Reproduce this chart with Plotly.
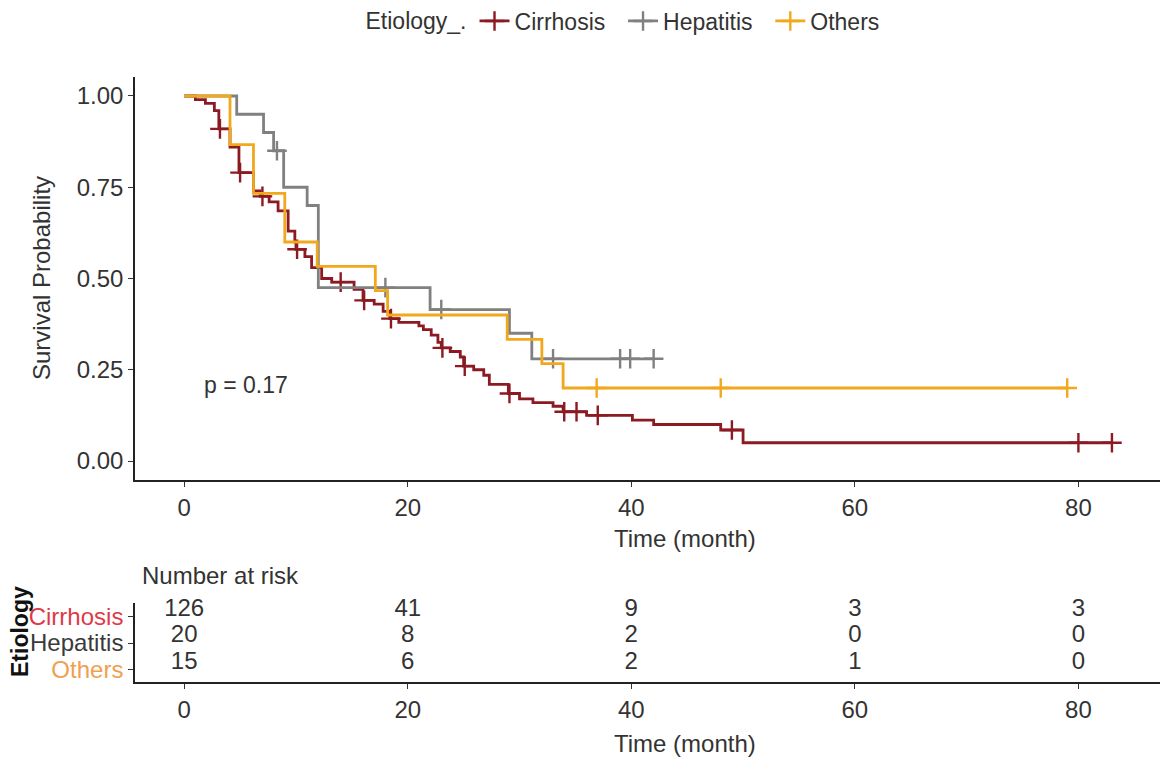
import plotly.graph_objects as go
import numpy as np

# ---------------- data ----------------
groups = ["Cirrhosis", "Hepatitis", "Others"]

cirr_times = [0, 1.0, 1.9, 2.7, 3.1, 4.1, 4.9, 6.2, 6.8, 7.6, 8.4, 9.3, 9.9, 10.0,
              10.8, 11.4, 12.3, 13.2, 15.2, 16.0, 17.0, 17.8, 18.4, 19.2, 21.0,
              21.4, 22.1, 22.7, 23.0, 23.8, 24.7, 25.0, 25.9, 26.8, 27.3, 29.0,
              30.0, 31.2, 33.0, 33.9, 36.0, 40.1, 42.0, 48.0, 50.0]
cirr_surv = [1.0, 0.99, 0.98, 0.96, 0.91, 0.86, 0.79, 0.74, 0.725, 0.71, 0.685, 0.63, 0.60, 0.58,
             0.56, 0.53, 0.50, 0.49, 0.47, 0.44, 0.43, 0.41, 0.39, 0.38, 0.37,
             0.36, 0.345, 0.325, 0.31, 0.30, 0.285, 0.26, 0.25, 0.235, 0.21, 0.185,
             0.17, 0.16, 0.15, 0.135, 0.125, 0.112, 0.10, 0.085, 0.05]
cirr_censor = [3.2, 5.0, 7.0, 10.1, 14.0, 16.1, 18.5, 23.1, 25.1, 29.1, 34.0, 35.1, 37.0, 49.0, 80.0, 83.0]

hep_times = [0, 4.7, 7.1, 8.0, 8.9, 11.0, 12.0, 22.0, 29.1, 31.1]
hep_surv = [1.0, 0.95, 0.90, 0.85, 0.75, 0.70, 0.475, 0.415, 0.35, 0.28]
hep_censor = [8.3, 18.0, 23.0, 33.0, 39.0, 39.9, 42.0]

oth_times = [0, 4.1, 6.2, 9.0, 11.9, 17.1, 18.2, 28.9, 32.0, 33.9]
oth_surv = [1.0, 0.867, 0.733, 0.60, 0.533, 0.467, 0.40, 0.333, 0.267, 0.20]
oth_censor = [36.9, 48.0, 79.0]

risk_times = [0, 20, 40, 60, 80]
risk_cirr = [126, 41, 9, 3, 3]
risk_hep = [20, 8, 2, 0, 0]
risk_oth = [15, 6, 2, 1, 0]

x_ticks = [0, 20, 40, 60, 80]
y_ticks = [0, 0.25, 0.5, 0.75, 1.0]
y_ticklabels = ["0.00", "0.25", "0.50", "0.75", "1.00"]

# ---------------- styles / geometry ----------------
colors = {"Cirrhosis": "#8B1A22", "Hepatitis": "#808080", "Others": "#F2A81D"}
label_colors = {"Cirrhosis": "#E03A48", "Hepatitis": "#3A3A3A", "Others": "#F0A050"}
legend_pad = {"Cirrhosis": "&nbsp;&nbsp;", "Hepatitis": "&nbsp;&nbsp;", "Others": ""}
FONT = "Liberation Sans, Arial, sans-serif"
TXT = "#333333"
FS = 24

OFF = 8          # page body margin
W, H = 1164, 754


def px(x):
    return (x - OFF) / W


def py(y):
    return 1 - (y - OFF) / H


series = {
    "Cirrhosis": (cirr_times, cirr_surv, cirr_censor),
    "Hepatitis": (hep_times, hep_surv, hep_censor),
    "Others": (oth_times, oth_surv, oth_censor),
}

fig = go.Figure()


def surv_at(times, surv, t):
    idx = np.searchsorted(np.array(times), t, side="right") - 1
    return surv[max(idx, 0)]


for g in groups:
    times, surv, cens = series[g]
    end_t = max(times[-1], max(cens))
    xs = list(times) + [end_t]
    ys = list(surv) + [surv[-1]]
    fig.add_trace(go.Scatter(x=xs, y=ys, mode="lines", line=dict(color=colors[g], width=2.8, shape="hv"),
                             showlegend=False, hoverinfo="skip", xaxis="x", yaxis="y"))
    cy = [surv_at(times, surv, t) for t in cens]
    fig.add_trace(go.Scatter(x=cens, y=cy, mode="markers",
                             marker=dict(symbol="cross-thin", size=14, color=colors[g],
                                         line=dict(color=colors[g], width=2.4)),
                             showlegend=False, hoverinfo="skip", xaxis="x", yaxis="y"))
    fig.add_trace(go.Scatter(x=[None], y=[None], mode="lines+markers", name=g + legend_pad[g],
                             line=dict(color=colors[g], width=2.8),
                             marker=dict(symbol="cross-thin", size=14, color=colors[g],
                                         line=dict(color=colors[g], width=2.4)),
                             xaxis="x", yaxis="y"))

risk_rows = {"Cirrhosis": (3, risk_cirr), "Hepatitis": (2, risk_hep), "Others": (1, risk_oth)}
for g in groups:
    row, vals = risk_rows[g]
    fig.add_trace(go.Scatter(x=risk_times, y=[row] * len(risk_times), mode="text",
                             text=[str(v) for v in vals], textposition="middle center",
                             textfont=dict(family=FONT, size=FS, color=TXT), cliponaxis=False,
                             showlegend=False, hoverinfo="skip", xaxis="x2", yaxis="y2"))

XDOM = [px(135), px(1160)]
axis_common = dict(showline=True, linecolor="#222222", linewidth=1.6, ticks="outside",
                   ticklen=5, tickwidth=1.4, tickcolor="#333333", showgrid=False, zeroline=False,
                   tickfont=dict(family=FONT, size=FS, color=TXT))


def ann(text, x, y, size=FS, angle=0, color=TXT, xanchor="center", xref="paper", yref="paper"):
    return dict(text=text, x=x, y=y, xref=xref, yref=yref, xanchor=xanchor, yanchor="middle",
                textangle=angle, showarrow=False, font=dict(family=FONT, size=size, color=color))


fig.update_layout(
    width=W, height=H,
    margin=dict(l=0, r=0, t=0, b=0, autoexpand=False),
    paper_bgcolor="white", plot_bgcolor="white",
    font=dict(family=FONT, size=FS, color=TXT),
    xaxis=dict(domain=XDOM, range=[-4.4, 87.3], tickvals=x_ticks, anchor="y", **axis_common),
    yaxis=dict(domain=[py(480), py(77)], range=[-0.052, 1.052], tickvals=y_ticks,
               ticktext=y_ticklabels, anchor="x", **axis_common),
    xaxis2=dict(domain=XDOM, range=[-4.4, 87.3], tickvals=x_ticks, anchor="y2", **axis_common),
    yaxis2=dict(domain=[py(682), py(603)], range=[0.28, 3.26],
                tickvals=[2.75, 1.75, 0.75],
                ticktext=['<span style="color:%s">%s</span>' % (label_colors[g], g) for g in groups],
                anchor="x2", **axis_common),
    legend=dict(orientation="h", x=px(624), xanchor="center", y=py(21), yanchor="middle",
                title=dict(text="Etiology_.", font=dict(family=FONT, size=23, color=TXT)),
                font=dict(family=FONT, size=23, color=TXT), itemwidth=30,
                bgcolor="rgba(0,0,0,0)"),
    annotations=[
        ann("Survival Probability", px(42), py(278), angle=-90),
        ann("Time (month)", px(685), py(538)),
        ann("p = 0.17", 1.6, 0.208, size=23, xanchor="left", xref="x", yref="y"),
        ann("Number at risk", px(140), py(575), xanchor="left"),
        ann("<b>Etiology</b>", px(20), py(632), size=23, angle=-90, color="#111111"),
        ann("Time (month)", px(685), py(743)),
    ],
)

fig.write_html("out.html")
